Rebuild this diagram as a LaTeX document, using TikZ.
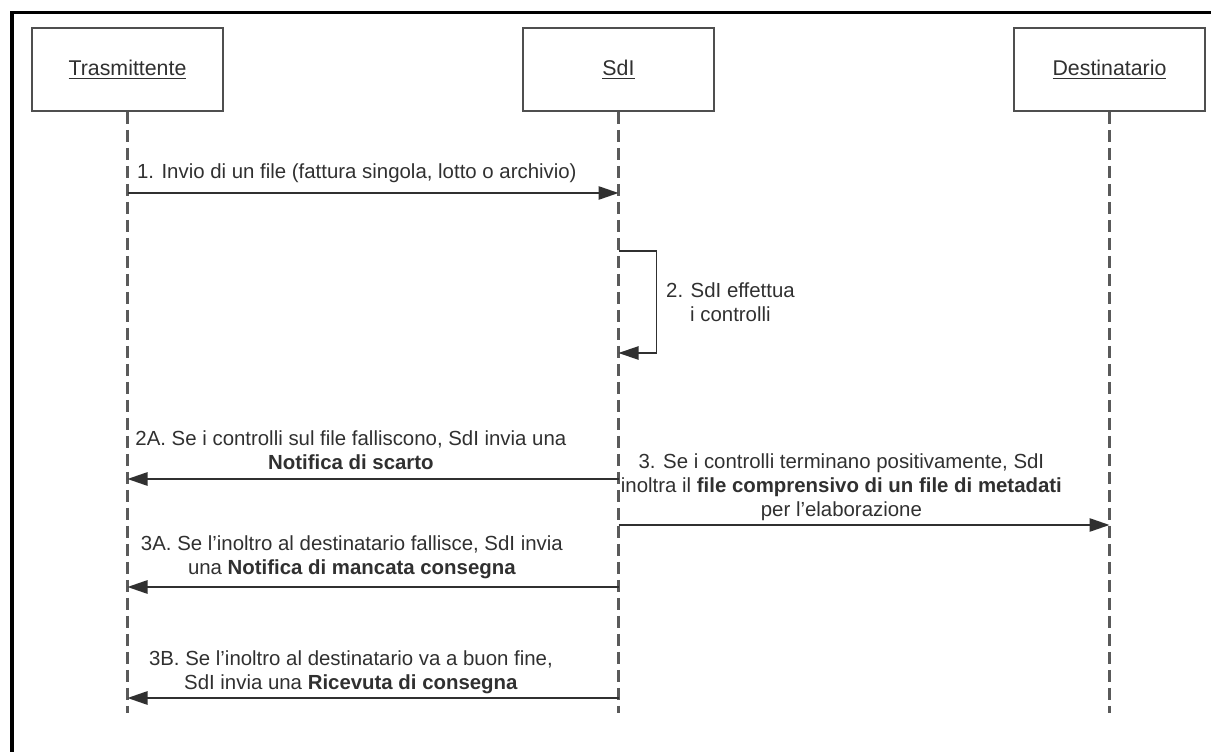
\documentclass[tikz,border=0pt]{standalone}
\usepackage{fontspec}
\setmainfont{Liberation Sans}
\usetikzlibrary{arrows.meta}
\definecolor{ink}{HTML}{303030}
\definecolor{life}{HTML}{5A5A5A}
\tikzset{
  actor/.style={draw=ink!85,line width=1.4pt,fill=white,minimum width=143pt,minimum height=62pt,
    font=\fontsize{16}{19}\selectfont,text=ink},
  lifeline/.style={draw=life,line width=1.6pt,dash pattern=on 9pt off 4.5pt},
  msg/.style={draw=ink,line width=1.3pt,-{Triangle[length=15pt,width=10pt]}},
  lbl/.style={font=\fontsize{15.3}{18}\selectfont,text=ink,align=center,inner sep=0pt,text depth=0pt},
}
\begin{document}
\begin{tikzpicture}[x=0.75pt,y=-0.75pt]
\useasboundingbox (0,0) rectangle (1211,752);
% frame
\draw[line width=2.6pt] (12,752) -- (12,12.5) -- (1211,12.5);

% actors
\node[actor] (trasm) at (127.5,69.5) {\underline{Trasmittente}};
\node[actor] (sdi)   at (618.5,69.5) {\underline{SdI}};
\node[actor] (dest)  at (1109.5,69.5) {\underline{Destinatario}};

\coordinate (trasmEnd) at (127.5,713);
\coordinate (sdiEnd)   at (618.5,713);
\coordinate (destEnd)  at (1109.5,713);

\path[lifeline] (trasm.south) -- (trasmEnd);
\path[lifeline] (sdi.south) -- (sdiEnd);
\path[lifeline] (dest.south) -- (destEnd);

% message points on the lifelines
\coordinate (t1) at (127.5,193);  \coordinate (s1) at (618.5,193);
\coordinate (s2) at (618.5,251);  \coordinate (s2b) at (618.5,353);
\coordinate (s3) at (618.5,479);  \coordinate (t3) at (127.5,479);
\coordinate (s4) at (618.5,525);  \coordinate (d4) at (1109.5,525);
\coordinate (s5) at (618.5,587);  \coordinate (t5) at (127.5,587);
\coordinate (s6) at (618.5,698);  \coordinate (t6) at (127.5,698);

\path[msg] (t1) -- node[lbl,pos=.467,above=10.5pt] {1. Invio di un file (fattura singola, lotto o archivio)} (s1);
\path[msg,line width=1pt] (s2) -- ++(38,0) |- node[lbl,pos=.25,right=6.75pt] {2. SdI effettua\\i controlli} (s2b);
\path[msg] (s3) -- node[lbl,pos=.545,above=6.75pt] {2A. Se i controlli sul file falliscono, SdI invia una\\\textbf{Notifica di scarto}} (t3);
\path[msg] (s4) -- node[lbl,pos=.454,above=6pt] {3. Se i controlli terminano positivamente, SdI\\inoltra il \textbf{file comprensivo di un file di metadati}\\per l'elaborazione} (d4);
\path[msg] (s5) -- node[lbl,pos=.543,above=9pt] {3A. Se l'inoltro al destinatario fallisce, SdI invia\\una \textbf{Notifica di mancata consegna}} (t5);
\path[msg] (s6) -- node[lbl,pos=.545,above=6pt] {3B. Se l'inoltro al destinatario va a buon fine,\\SdI invia una \textbf{Ricevuta di consegna}} (t6);
\end{tikzpicture}
\end{document}
